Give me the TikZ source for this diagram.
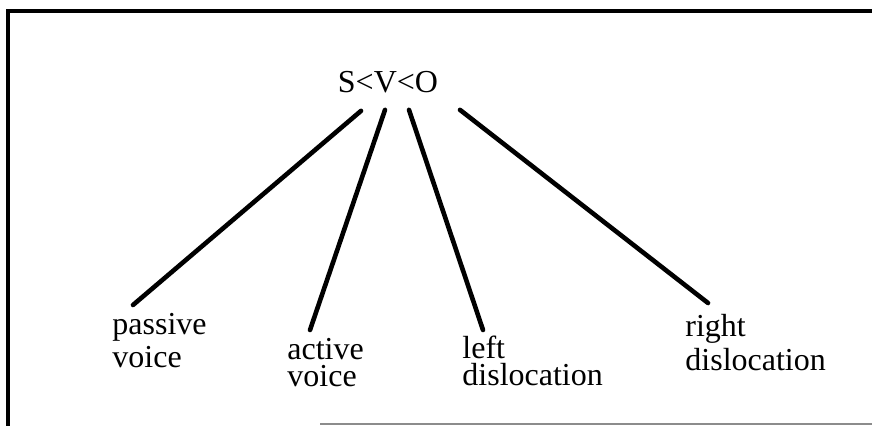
\documentclass[tikz,border=0pt]{standalone}
\usepackage{fontspec}
\setmainfont{Liberation Serif}
\usepackage{tikz}
\usetikzlibrary{positioning,calc}

\begin{document}
\begin{tikzpicture}[
  x=0.5pt, y=-0.5pt,
  font=\fontsize{16pt}{12pt}\selectfont,
  word/.style={inner sep=0pt, align=left, anchor=north west},
  branch/.style={line width=2.3pt, line cap=round},
  frame/.style={line width=2.4pt}
]
\useasboundingbox (0,0) rectangle (872,426);

% frame of the scanned page
\coordinate (corner) at (8,11);
\draw[frame] (8,426) -- (corner) -- (872,11);
\draw[black!45, line width=0.8pt] (320,424) -- (872,424);

\node[inner sep=0pt, anchor=base] (order) at (388,93) {S<V<O};

\node[word] (passive) at (112,313) {passive\\[1.5pt]voice};
\node[word] (active) at (287,338) {active\\[1.5pt]voice};
\node[word] (leftdis) at (462,336) {left\\[1.5pt]dislocation};
\node[word] (rightdis) at (685,314) {right\\[1.5pt]dislocation};

\draw[branch] ([shift={(-27,17)}]order.south) -- ([shift={(21,-8)}]passive.north west);
\draw[branch] ([shift={(-3,16)}]order.south) -- ([shift={(23,-8)}]active.north west);
\draw[branch] ([shift={(21,16)}]order.south) -- ([shift={(21,-6)}]leftdis.north west);
\draw[branch] ([shift={(72,16)}]order.south) -- ([shift={(23,-11)}]rightdis.north west);
\end{tikzpicture}
\end{document}
